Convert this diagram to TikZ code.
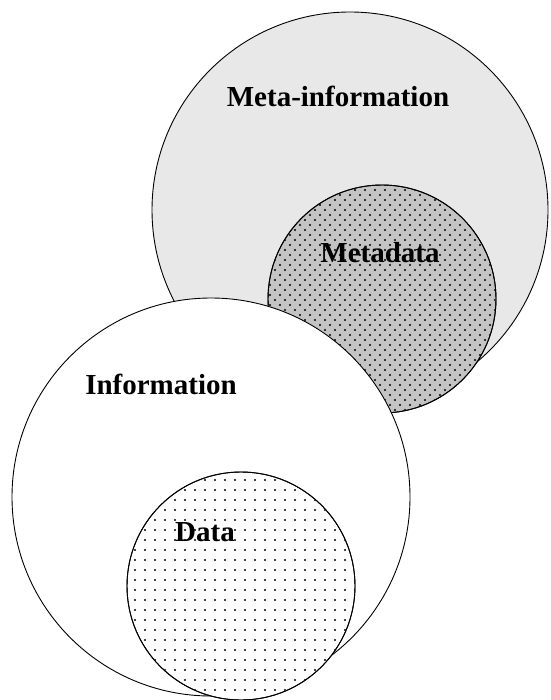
\documentclass[tikz,border=0pt]{standalone}
\usepackage{fontspec}
\setmainfont{Liberation Serif}
\begin{document}
\begin{tikzpicture}[x=1pt,y=-1pt,
  ring/.style={circle,draw=black,line width=0.9pt,inner sep=0pt,outer sep=0pt},
  lbl/.style={font=\fontsize{29}{32}\selectfont\bfseries,inner sep=0pt,anchor=base},
  dot/.style={fill=black}]
\useasboundingbox (0,0) rectangle (550,700);
\fill[white] (0,0) rectangle (550,700);
% Meta-information
\node[ring,fill={rgb,255:red,232;green,232;blue,232},minimum size=396pt] (meta) at (350,210) {};
% Metadata
\node[ring,fill={rgb,255:red,196;green,196;blue,196},minimum size=228pt] (metadata) at (382,299) {};
\begin{scope}
  \clip (382,299) circle[radius=113.5pt];
  \foreach \x in {265,275,...,505} {
    \foreach \y in {180,190,...,420} {
      \fill[dot] (\x,\y) circle[radius=1.1pt];
      \fill[dot] (\x+5,\y+5) circle[radius=1.1pt];
    }
  }
\end{scope}
\node[ring,minimum size=228pt] at (metadata.center) {};
% Information
\node[ring,fill=white,minimum size=398pt] (info) at (211,497) {};
% Data
\node[ring,fill=white,minimum size=228pt] (data) at (241,586) {};
\begin{scope}
  \clip (241,586) circle[radius=113.5pt];
  \foreach \x in {125,135,...,365} {
    \foreach \y in {470,480,...,710} {
      \fill[dot] (\x,\y) circle[radius=1.2pt];
    }
  }
\end{scope}
\node[ring,minimum size=228pt] at (data.center) {};
% Labels
\node[lbl] (tmeta) at (338,107) {Meta-information};
\node[lbl] (tmetadata) at (380,262) {Metadata};
\node[lbl] (tinfo) at (161,394) {Information};
\node[lbl] (tdata) at (205,541) {Data};
\end{tikzpicture}
\end{document}
